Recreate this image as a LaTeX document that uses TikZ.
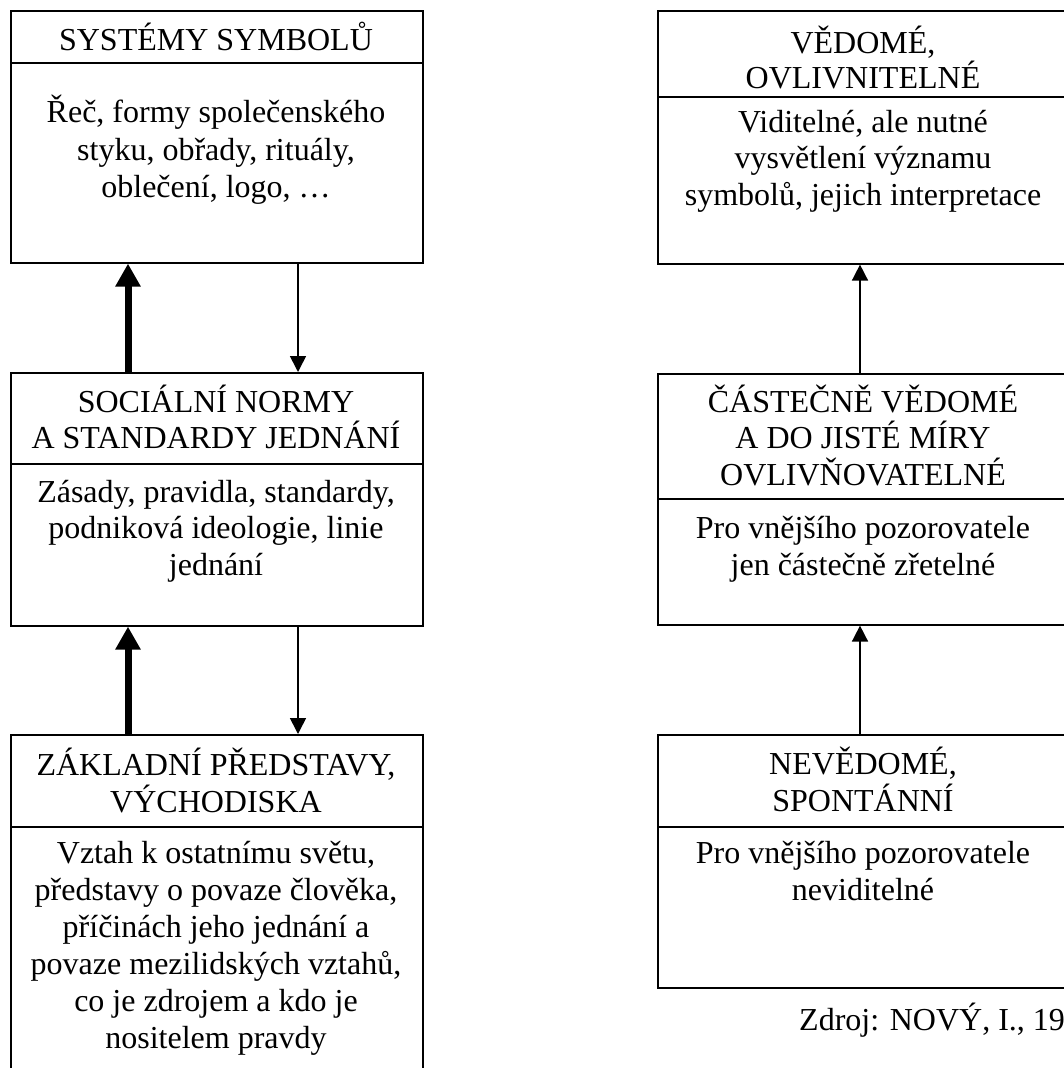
\documentclass[tikz,border=0pt]{standalone}
\usepackage{fontspec}
\setmainfont{Liberation Serif}
\usetikzlibrary{arrows.meta,calc}
\begin{document}
\begin{tikzpicture}[x=1pt,y=-1pt,
  box/.style={draw, line width=1.6pt, minimum width=412pt, inner sep=0pt, anchor=north west},
  divline/.style={line width=1.6pt},
  txt/.style={inner sep=0pt, anchor=base, font=\fontsize{32pt}{37pt}\selectfont},
  bigarrow/.style={line width=7pt, -{Triangle[width=24pt,length=23pt]}},
  smallarrow/.style={line width=1.6pt, -{Triangle[width=16pt,length=16pt]}}]
\useasboundingbox (0,0) rectangle (1064,1068);
\clip (0,0) rectangle (1064,1068);
% left column boxes
\node[box, minimum height=252pt] (L1) at (10,10) {};
\node[box, minimum height=253pt] (L2) at (10,372) {};
\node[box, minimum height=400pt] (L3) at (10,734) {};
% right column boxes
\node[box, minimum height=253pt] (R1) at (657,10) {};
\node[box, minimum height=251pt] (R2) at (657,373) {};
\node[box, minimum height=253pt] (R3) at (657,734) {};
% dividers
\draw[divline] ($(L1.north west)+(0,53)$) -- ($(L1.north east)+(0,53)$);
\draw[divline] ($(L2.north west)+(0,92)$) -- ($(L2.north east)+(0,92)$);
\draw[divline] ($(L3.north west)+(0,93)$) -- ($(L3.north east)+(0,93)$);
\draw[divline] ($(R1.north west)+(0,87)$) -- ($(R1.north east)+(0,87)$);
\draw[divline] ($(R2.north west)+(0,126)$) -- ($(R2.north east)+(0,126)$);
\draw[divline] ($(R3.north west)+(0,93)$) -- ($(R3.north east)+(0,93)$);
% arrows
\draw[bigarrow] ($(L2.north west)+(118,0)$) -- ($(L1.south west)+(118,0)$);
\draw[smallarrow] ($(L1.south west)+(288,0)$) -- ($(L2.north west)+(288,0)$);
\draw[bigarrow] ($(L3.north west)+(118,0)$) -- ($(L2.south west)+(118,0)$);
\draw[smallarrow] ($(L2.south west)+(288,0)$) -- ($(L3.north west)+(288,0)$);
\draw[smallarrow] ($(R2.north west)+(203,0)$) -- ($(R1.south west)+(203,0)$);
\draw[smallarrow] ($(R3.north west)+(203,0)$) -- ($(R2.south west)+(203,0)$);
% texts left
\node[txt] (a1) at (216,50) {SYSTÉMY SYMBOLŮ};
\node[txt] (a2) at (216,122) {Řeč, formy společenského};
\node[txt] (a3) at (216,160) {styku, obřady, rituály,};
\node[txt] (a4) at (216,197) {oblečení, logo, …};
\node[txt] (b1) at (216,412) {SOCIÁLNÍ NORMY};
\node[txt] (b2) at (216,448) {A STANDARDY JEDNÁNÍ};
\node[txt] (b3) at (216,502) {Zásady, pravidla, standardy,};
\node[txt] (b4) at (216,538) {podniková ideologie, linie};
\node[txt] (b5) at (216,575) {jednání};
\node[txt] (c1) at (216,775) {ZÁKLADNÍ PŘEDSTAVY,};
\node[txt] (c2) at (216,812) {VÝCHODISKA};
\node[txt] (c3) at (216,863) {Vztah k ostatnímu světu,};
\node[txt] (c4) at (216,900) {představy o povaze člověka,};
\node[txt] (c5) at (216,937) {příčinách jeho jednání a};
\node[txt] (c6) at (216,974) {povaze mezilidských vztahů,};
\node[txt] (c7) at (216,1011) {co je zdrojem a kdo je};
\node[txt] (c8) at (216,1048) {nositelem pravdy};
% texts right
\node[txt] (d1) at (863,53) {VĚDOMÉ,};
\node[txt] (d2) at (863,88) {OVLIVNITELNÉ};
\node[txt] (d3) at (863,132) {Viditelné, ale nutné};
\node[txt] (d4) at (863,168) {vysvětlení významu};
\node[txt] (d5) at (863,205) {symbolů, jejich interpretace};
\node[txt] (e1) at (863,412) {ČÁSTEČNĚ VĚDOMÉ};
\node[txt] (e2) at (863,448) {A DO JISTÉ MÍRY};
\node[txt] (e3) at (863,485) {OVLIVŇOVATELNÉ};
\node[txt] (e4) at (863,538) {Pro vnějšího pozorovatele};
\node[txt] (e5) at (863,575) {jen částečně zřetelné};
\node[txt] (f1) at (863,774) {NEVĚDOMÉ,};
\node[txt] (f2) at (863,811) {SPONTÁNNÍ};
\node[txt] (f3) at (863,863) {Pro vnějšího pozorovatele};
\node[txt] (f4) at (863,900) {neviditelné};
\node[txt, anchor=base west] (src) at (799,1030) {Zdroj: NOVÝ, I., 1996};
\end{tikzpicture}
\end{document}
